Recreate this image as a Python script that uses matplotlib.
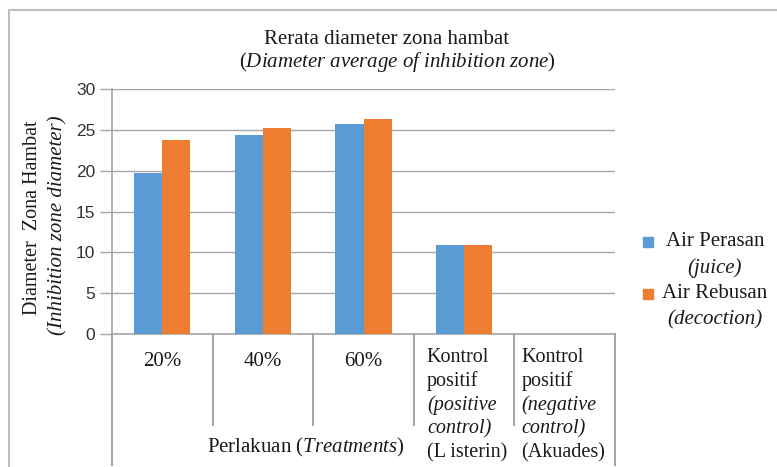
import matplotlib.pyplot as plt
import numpy as np
from matplotlib.patches import Rectangle
from matplotlib.lines import Line2D

plt.rcParams['mathtext.fontset'] = 'custom'
plt.rcParams['mathtext.rm'] = 'Liberation Serif'
plt.rcParams['mathtext.it'] = 'Liberation Serif:italic'

# data
categories = ['20%', '40%', '60%', 'Kontrol positif', 'Kontrol negatif']
juice = [19.7, 24.4, 25.7, 10.9, 0]
decoction = [23.7, 25.2, 26.3, 10.9, 0]
yticks = [0, 5, 10, 15, 20, 25, 30]
cat_lines = [
    [('20%', False)],
    [('40%', False)],
    [('60%', False)],
    [('Kontrol', False), ('positif', False), ('(positive', True), ('control)', True), ('(L isterin)', False)],
    [('Kontrol', False), ('positif', False), ('(negative', True), ('control)', True), ('(Akuades)', False)],
]

blue = '#5B9BD5'
orange = '#ED7D31'
grey = '#A6A6A6'
serif = 'Liberation Serif'
fs = 15
txtcol = '#1a1a1a'

W, H = 777, 467
fig = plt.figure(figsize=(W / 100, H / 100), dpi=100)

# outer chart border
fig.patches.append(Rectangle((9 / W, -0.1), 2, (H - 10) / H + 0.1, transform=fig.transFigure,
                             fill=False, edgecolor='#BFBFBF', lw=1.5))

x0, x1, ytop, ybot = 112, 615, 89, 334
ax = fig.add_axes([x0 / W, (H - ybot) / H, (x1 - x0) / W, (ybot - ytop) / H])

x = np.arange(len(categories))
bw = 0.28
ax.bar(x - bw / 2, juice, bw, color=blue, zorder=3)
ax.bar(x + bw / 2, decoction, bw, color=orange, zorder=3)

ax.set_xlim(-0.5, len(categories) - 0.5)
ax.set_ylim(0, 30)
ax.set_yticks(yticks)
ax.set_yticklabels([str(v) for v in yticks], fontsize=12.5, family='Liberation Sans', color='#333333')
ax.tick_params(axis='y', length=9, color=grey, width=1, pad=3)
ax.set_xticks([])
ax.grid(axis='y', color=grey, lw=1, zorder=0)
for s in ['top', 'right']:
    ax.spines[s].set_visible(False)
ax.spines['left'].set_color(grey)
ax.spines['bottom'].set_color(grey)
ax.spines['left'].set_linewidth(1.2)
ax.spines['bottom'].set_linewidth(1.2)

# category separators below the axis
trans = ax.get_xaxis_transform()
for i in range(len(categories) + 1):
    xs = i - 0.5
    low = -131 / 245 if i in (0, len(categories)) else -91 / 245
    ax.add_line(Line2D([xs, xs], [0, low], transform=trans, color=grey, lw=1.5, clip_on=False))

# category labels: single lines centred, multi-line blocks left aligned
for i, lines in enumerate(cat_lines):
    if len(lines) == 1:
        ax.text(i, -28 / 245, lines[0][0], transform=trans, ha='center', va='center',
                fontsize=fs, family=serif, color=txtcol)
        continue
    xl = i - 0.5 + (0.13 if i == 3 else 0.07)
    for j, (txt, it) in enumerate(lines):
        ax.text(xl, -(23 + j * 24) / 245, txt, transform=trans, ha='left', va='center',
                fontsize=14.5, family=serif, style='italic' if it else 'normal', color=txtcol)

ax.text(306 / W, (H - 447) / H, r'Perlakuan ($\mathit{Treatments}$)', transform=fig.transFigure,
        ha='center', va='center', fontsize=fs, family=serif, color=txtcol)

# title
fig.text(387 / W, (H - 39) / H, 'Rerata diameter zona hambat', ha='center', va='center',
         fontsize=fs, family=serif, color=txtcol)
fig.text(397 / W, (H - 62) / H, r'($\mathit{Diameter\ average\ of\ inhibition\ zone}$)',
         ha='center', va='center', fontsize=fs, family=serif, color=txtcol)

# y label
fig.text(33 / W, (H - 218) / H, 'Diameter  Zona Hambat', rotation=90, ha='center', va='center',
         fontsize=14.5, family=serif, color=txtcol)
fig.text(58 / W, (H - 225) / H, '(Inhibition zone diameter)', rotation=90, ha='center', va='center',
         fontsize=fs, family=serif, style='italic', color=txtcol)

# legend
legend_rows = [('Air Perasan', '(juice)', blue, 242), ('Air Rebusan', '(decoction)', orange, 294)]
for name, sub, col, yy in legend_rows:
    fig.patches.append(Rectangle((643 / W, (H - yy - 5) / H), 10 / W, 10 / H,
                                 transform=fig.transFigure, color=col))
    fig.text(715 / W, (H - yy) / H, name, ha='center', va='center', fontsize=fs, family=serif,
             color=txtcol)
    fig.text(715 / W, (H - yy - 26) / H, sub, ha='center', va='center', fontsize=fs,
             family=serif, style='italic', color=txtcol)

fig.savefig('out.png', dpi=100)
